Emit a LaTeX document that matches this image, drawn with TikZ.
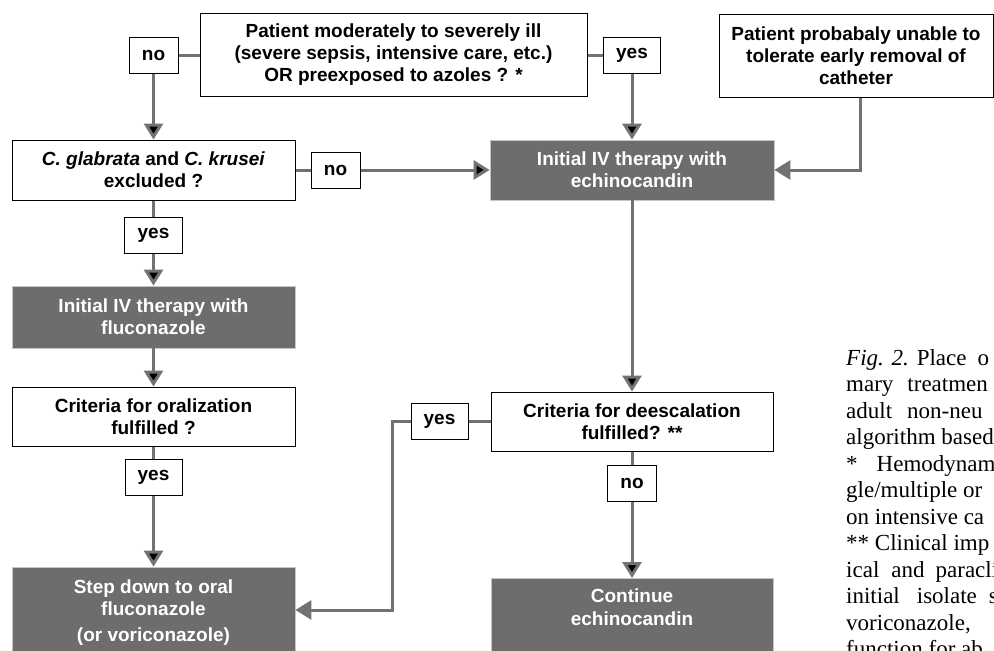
\documentclass[tikz,border=0pt]{standalone}
\usepackage{fontspec}
\setmainfont{Liberation Sans}
\newfontfamily\capfont{Liberation Serif}
\usetikzlibrary{arrows.meta,positioning}

\definecolor{boxgray}{HTML}{6D6D6D}
\definecolor{linegray}{HTML}{727272}

\tikzset{
  query/.style={draw=black, line width=1pt, fill=white, align=center, inner sep=0pt,
                font=\bfseries\fontsize{19}{22}\selectfont},
  therapy/.style={draw=gray!45, line width=0.8pt, fill=boxgray, text=white, align=center,
                  inner sep=0pt, font=\bfseries\fontsize{19}{22}\selectfont},
  answer/.style={draw=black, line width=1pt, fill=white, inner sep=0pt, minimum height=36pt,
                 font=\bfseries\fontsize{19}{22}\selectfont},
  flow/.style={draw=linegray, line width=3pt},
  capline/.style={anchor=base west, inner sep=0pt, font=\capfont\fontsize{23}{26}\selectfont}
}

\begin{document}
\begin{tikzpicture}[x=1pt,y=-1pt,>={Triangle[width=19pt,length=16pt]}]
  \useasboundingbox (0,0) rectangle (994,651);
  \clip (0,0) rectangle (994,651);
  \fill[white] (0,0) rectangle (994,651);

  % questions and therapies
  \node[query, minimum width=387pt, minimum height=83pt]  (ill)    at (393.5,55) {Patient moderately to severely ill\\(severe sepsis, intensive care, etc.)\\OR preexposed to azoles ? *};
  \node[query, minimum width=274pt, minimum height=83pt]  (cath)   at (856,55.5) {Patient probabaly unable to\\tolerate early removal of\\catheter};
  \node[query, minimum width=283pt, minimum height=60pt]  (glab)   at (153.5,170) {\textit{C. glabrata} and \textit{C. krusei}\\excluded ?};
  \node[therapy, minimum width=284pt, minimum height=60pt] (echino) at (632,170) {Initial IV therapy with\\echinocandin};
  \node[therapy, minimum width=283pt, minimum height=62pt] (fluco)  at (153.5,317) {Initial IV therapy with\\fluconazole};
  \node[query, minimum width=283pt, minimum height=59pt]  (oral)   at (153.5,416.5) {Criteria for oralization\\fulfilled ?};
  \node[query, minimum width=282pt, minimum height=59pt]  (deesc)  at (632,421.5) {Criteria for deescalation\\fulfilled? **};
  \node[therapy, minimum width=283pt, minimum height=92pt] (oralstep) at (153.5,613) {Step down to oral\\fluconazole\\[4pt](or voriconazole)};
  \node[therapy, anchor=north, minimum width=282pt, minimum height=90pt] (cont) at (632,578) {};
  \node[text=white, align=center, inner sep=0pt, font=\bfseries\fontsize{19}{23}\selectfont] (contlabel)
       at ([yshift=-29pt]cont.north) {Continue\\echinocandin};

  % answers
  \node[answer, minimum width=49pt] (no1)  at (153.5,55) {no};
  \node[answer, minimum width=57pt] (yes1) at (632,55) {yes};
  \node[answer, minimum width=49pt] (no2)  at (335.5,170) {no};
  \node[answer, minimum width=58pt] (yes2) at (153.5,235.5) {yes};
  \node[answer, minimum width=57pt] (yes3) at (153.5,477) {yes};
  \node[answer, minimum width=57pt] (yes4) at (439.5,421.5) {yes};
  \node[answer, minimum width=49pt] (no4)  at (632,483.5) {no};
  \coordinate (turn) at (392,610);

  \draw[flow]
    (ill)   edge (no1)
    (no1)   edge[->] (glab)
    (ill)   edge (yes1)
    (yes1)  edge[->] (echino)
    (glab)  edge (no2)
    (no2)   edge[->] (echino)
    (glab)  edge (yes2)
    (yes2)  edge[->] (fluco)
    (fluco) edge[->] (oral)
    (oral)  edge (yes3)
    (yes3)  edge[->] (oralstep)
    (echino) edge[->] (deesc)
    (deesc) edge (yes4)
    (deesc) edge (no4)
    (no4)   edge[->] (cont);
  \draw[flow,->] ([xshift=4pt]cath.south) |- (echino.east);
  \draw[flow,->] (yes4.west) -| (turn) -- (turn -| oralstep.east);

  % caption, cut at the right edge
  \foreach \txt [count=\i from 0] in {%
      {\textit{Fig. 2.}\hspace{8pt}Place\hspace{11pt}o},
      {mary\hspace{14pt}treatmen},
      {adult\hspace{15pt}non-neu},
      {algorithm based},
      {*\hspace{19pt}Hemodynam},
      {gle/multiple or},
      {on intensive ca},
      {** Clinical imp},
      {ical\hspace{12pt}and\hspace{11pt}paracli},
      {initial\hspace{17pt}isolate\hspace{12pt}s},
      {voriconazole,},
      {function for ab}}
    \node[capline] (cap\i) at (846,365+26.5*\i) {\txt};
\end{tikzpicture}
\end{document}
